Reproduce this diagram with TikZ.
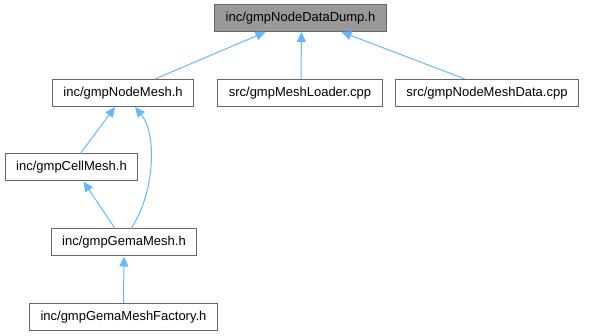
\documentclass[tikz,border=0pt]{standalone}
\usepackage{fontspec}
\setmainfont{Liberation Sans}
\usetikzlibrary{arrows.meta}
\definecolor{edgeblue}{HTML}{63B8FF}
\definecolor{boxgray}{HTML}{666666}
\definecolor{topfill}{HTML}{999999}

\begin{document}
\begin{tikzpicture}[
    x=1pt, y=-1pt,
    box/.style={draw=boxgray, line width=1pt, rectangle, minimum height=27pt,
                inner xsep=11pt, font=\fontsize{13}{15}\selectfont},
    edge/.style={edgeblue, line width=1pt,
                 {Triangle[length=10pt, width=9pt]}-}
]
    \useasboundingbox (0,0) rectangle (598,336);

    \node[box, fill=topfill] (dump) at (300.5,18) {inc/gmpNodeDataDump.h};

    \node[box] (nodemesh) at (123,93)   {inc/gmpNodeMesh.h};
    \node[box] (loader)   at (300,93)   {src/gmpMeshLoader.cpp};
    \node[box] (meshdata) at (487,93)   {src/gmpNodeMeshData.cpp};

    \node[box] (cellmesh) at (71.5,167.5) {inc/gmpCellMesh.h};
    \node[box] (gemamesh) at (124,242.5)  {inc/gmpGemaMesh.h};
    \node[box] (factory)  at (123.5,317)  {inc/gmpGemaMeshFactory.h};

    \draw[edge] ([xshift=-35pt]dump.south) -- ([xshift=32pt]nodemesh.north);
    \draw[edge] ([xshift=1pt]dump.south) -- ([xshift=1pt]loader.north);
    \draw[edge] ([xshift=41pt]dump.south) -- ([xshift=-22pt]meshdata.north);

    \draw[edge] ([xshift=-8pt]nodemesh.south) -- ([xshift=9pt]cellmesh.north);
    \draw[edge] ([xshift=12pt]nodemesh.south)
        .. controls (158,135) and (154,195) .. ([xshift=7pt]gemamesh.north);
    \draw[edge] ([xshift=12pt]cellmesh.south) -- ([xshift=-9pt]gemamesh.north);

    \draw[edge] (gemamesh.south) -- (factory.north);
\end{tikzpicture}
\end{document}
